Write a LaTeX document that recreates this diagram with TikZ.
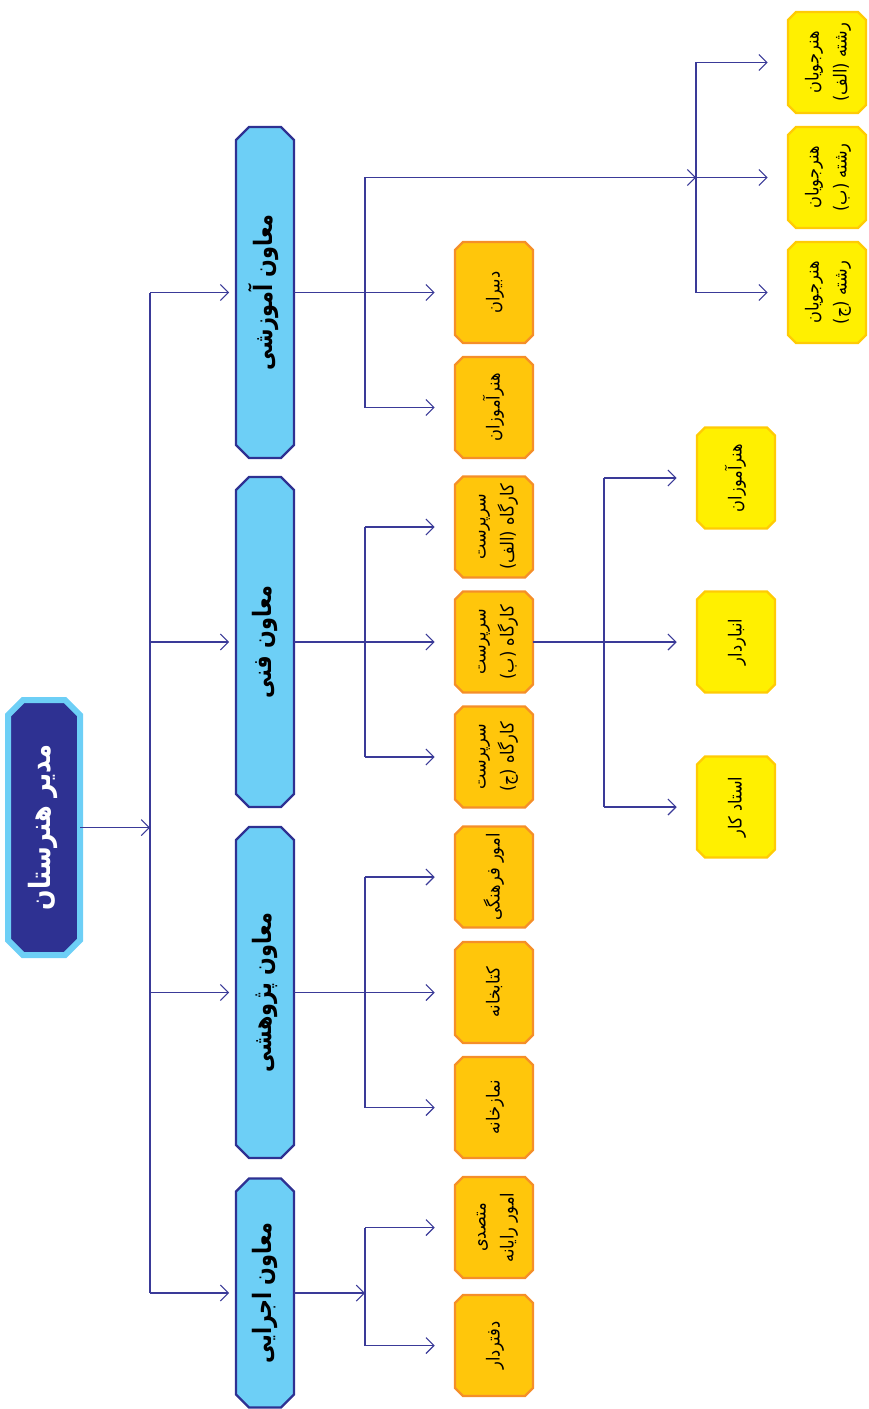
\documentclass[tikz,border=0pt]{standalone}
\usepackage{fontspec}
\usepackage{graphicx}
\usetikzlibrary{arrows.meta}
\TeXXeTstate=1
\newfontfamily\fa[Script=Arabic,FakeStretch=0.9]{DejaVu Sans}
\newfontfamily\fab[Script=Arabic,FakeStretch=0.82]{DejaVu Sans}
\definecolor{navy}{HTML}{2E3192}
\definecolor{skyb}{HTML}{6DCFF6}
\definecolor{amber}{HTML}{FFC60B}
\definecolor{orng}{HTML}{F58F29}
\definecolor{yel}{HTML}{FFF000}
\definecolor{gold}{HTML}{FFCB05}
\definecolor{linec}{HTML}{3A3A98}
\newcommand\RL[1]{\beginR#1\endR}
\newcommand\vtxt[1]{\rotatebox{90}{\begin{tabular}{@{}c@{}}#1\end{tabular}}}
\newcommand\cbox[8]{%
  \path[#7] ({#2-#4/2+#6},{#3-#5/2}) -- ({#2+#4/2-#6},{#3-#5/2}) -- ({#2+#4/2},{#3-#5/2+#6}) -- ({#2+#4/2},{#3+#5/2-#6}) -- ({#2+#4/2-#6},{#3+#5/2}) -- ({#2-#4/2+#6},{#3+#5/2}) -- ({#2-#4/2},{#3+#5/2-#6}) -- ({#2-#4/2},{#3-#5/2+#6}) -- cycle;
  \node[minimum width=#4*0.75pt, minimum height=#5*0.75pt, inner sep=0pt] (#1) at (#2,#3) {#8};
}
\tikzset{
  rootbox/.style={fill=navy, draw=skyb, line width=4.5pt},
  lvlone/.style={fill=skyb, draw=navy, line width=1.8pt},
  lvltwo/.style={fill=amber, draw=orng, line width=1.8pt},
  lvlthree/.style={fill=yel, draw=gold, line width=1.8pt},
  conn/.style={draw=linec, line width=0.8pt},
  arr/.style={conn, -{Straight Barb[length=6pt,width=12pt]}},
  arrbox/.style={arr, shorten >=15pt},
  arrone/.style={arr, shorten >=5pt},
}
\newcommand\roottxt[1]{{\fab\fontsize{22}{26}\selectfont\bfseries\color{white}\vtxt{#1}}}
\newcommand\onetxt[1]{{\fab\fontsize{19}{23}\selectfont\bfseries\vtxt{#1}}}
\newcommand\twotxt[1]{{\fa\fontsize{13.5}{21}\selectfont\vtxt{#1}}}
\begin{document}
\begin{tikzpicture}[x=0.75pt,y=-0.75pt]
\useasboundingbox (0,0) rectangle (868,1409);
% root
\cbox{root}{44}{827.5}{72}{255}{15}{rootbox}{\roottxt{\RL{مدیر هنرستان}}}
% level 1
\cbox{edu}{265}{292.5}{58}{331}{13}{lvlone}{\onetxt{\RL{معاون آموزشی}}}
\cbox{tech}{265}{642}{58}{330}{13}{lvlone}{\onetxt{\RL{معاون فنی}}}
\cbox{res}{265}{992.5}{58}{331}{13}{lvlone}{\onetxt{\RL{معاون پژوهشی}}}
\cbox{exec}{265}{1293}{58}{229}{13}{lvlone}{\onetxt{\RL{معاون اجرایی}}}
% level 2
\cbox{dab}{494}{292.5}{78}{101}{8}{lvltwo}{\twotxt{\RL{دبیران}}}
\cbox{honA}{494}{407.5}{78}{101}{8}{lvltwo}{\twotxt{\RL{هنرآموزان}}}
\cbox{sa}{494}{527}{78}{101}{8}{lvltwo}{\twotxt{\RL{سرپرست}\\\RL{کارگاه (الف)}}}
\cbox{sb}{494}{642}{78}{101}{8}{lvltwo}{\twotxt{\RL{سرپرست}\\\RL{کارگاه (ب)}}}
\cbox{sc}{494}{757}{78}{101}{8}{lvltwo}{\twotxt{\RL{سرپرست}\\\RL{کارگاه (ج)}}}
\cbox{farh}{494}{877}{78}{101}{8}{lvltwo}{\twotxt{\RL{امور فرهنگی}}}
\cbox{ketab}{494}{992.5}{78}{101}{8}{lvltwo}{\twotxt{\RL{کتابخانه}}}
\cbox{namaz}{494}{1107.5}{78}{101}{8}{lvltwo}{\twotxt{\RL{نمازخانه}}}
\cbox{mot}{494}{1227.5}{78}{101}{8}{lvltwo}{\twotxt{\RL{متصدی}\\\RL{امور رایانه}}}
\cbox{daft}{494}{1345.5}{78}{101}{8}{lvltwo}{\twotxt{\RL{دفتردار}}}
% level 3 (students)
\cbox{hja}{827}{62.5}{78}{101}{8}{lvlthree}{\twotxt{\RL{هنرجویان}\\\RL{رشته (الف)}}}
\cbox{hjb}{827}{177.5}{78}{101}{8}{lvlthree}{\twotxt{\RL{هنرجویان}\\\RL{رشته (ب)}}}
\cbox{hjc}{827}{292.5}{78}{101}{8}{lvlthree}{\twotxt{\RL{هنرجویان}\\\RL{رشته (ج)}}}
% level 3 (workshop)
\cbox{honB}{736}{478}{78}{101}{8}{lvlthree}{\twotxt{\RL{هنرآموزان}}}
\cbox{anbar}{736}{642}{78}{101}{8}{lvlthree}{\twotxt{\RL{انباردار}}}
\cbox{ostad}{736}{807}{78}{101}{8}{lvlthree}{\twotxt{\RL{استاد کار}}}
% bus coordinates
\coordinate (b0) at (150,827.5);
\coordinate (b0t) at (150,292.5);
\coordinate (b0b) at (150,1293);
\coordinate (b1t) at (365,177.5);
\coordinate (b1b) at (365,407.5);
\coordinate (b2) at (696,177.5);
\coordinate (b2t) at (696,62.5);
\coordinate (b2b) at (696,292.5);
\coordinate (b3t) at (365,527);
\coordinate (b3b) at (365,757);
\coordinate (b4t) at (604,478);
\coordinate (b4b) at (604,807);
\coordinate (b5t) at (365,877);
\coordinate (b5b) at (365,1107.5);
\coordinate (b6) at (365,1293);
\coordinate (b6t) at (365,1227.5);
\coordinate (b6b) at (365,1345.5);
% root connectors
\draw[arr] (root.east) -- (b0);
\draw[conn] (b0t) -- (b0b);
\draw[arrone] (b0t) -- (edu.west);
\draw[arrone] (tech.west -| b0) -- (tech.west);
\draw[arrone] (res.west -| b0) -- (res.west);
\draw[arrone] (b0b) -- (exec.west);
% edu
\draw[arrbox] (edu.east) -- (dab.west);
\draw[conn] (b1t) -- (b1b);
\draw[arrbox] (b1b) -- (honA.west);
\draw[arr] (b1t) -- (b2);
\draw[conn] (b2t) -- (b2b);
\draw[arrbox] (b2t) -- (hja.west);
\draw[arrbox] (b2) -- (hjb.west);
\draw[arrbox] (b2b) -- (hjc.west);
% tech
\draw[arrbox] (tech.east) -- (sb.west);
\draw[conn] (b3t) -- (b3b);
\draw[arrbox] (b3t) -- (sa.west);
\draw[arrbox] (b3b) -- (sc.west);
\draw[arrbox] (sb.east) -- (anbar.west);
\draw[conn] (b4t) -- (b4b);
\draw[arrbox] (b4t) -- (honB.west);
\draw[arrbox] (b4b) -- (ostad.west);
% research
\draw[arrbox] (res.east) -- (ketab.west);
\draw[conn] (b5t) -- (b5b);
\draw[arrbox] (b5t) -- (farh.west);
\draw[arrbox] (b5b) -- (namaz.west);
% exec
\draw[arr] (exec.east) -- (b6);
\draw[conn] (b6t) -- (b6b);
\draw[arrbox] (b6t) -- (mot.west);
\draw[arrbox] (b6b) -- (daft.west);
\end{tikzpicture}
\end{document}
